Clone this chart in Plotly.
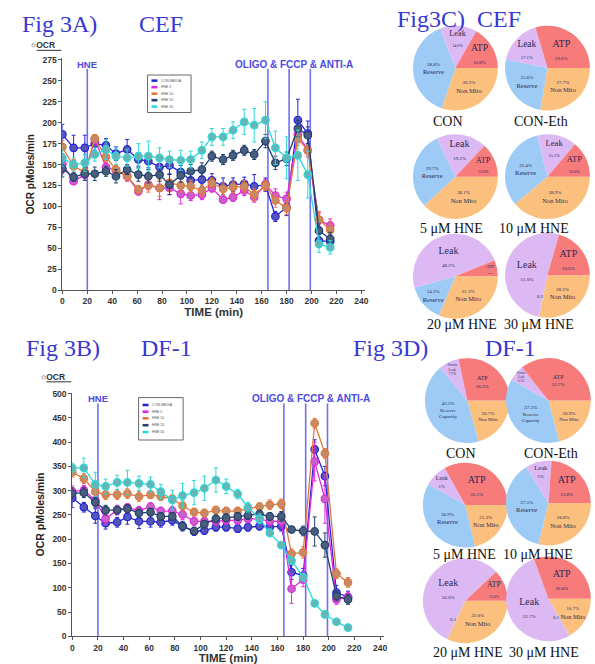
import math
import plotly.graph_objects as go

W, H = 595, 664


def px(x):
    return min(max(x / W, 0.0), 1.0)


def py(y):
    return min(max(1 - y / H, 0.0), 1.0)


# ---------------- line-chart data ----------------
times = [0, 9, 18, 26, 35, 43, 52, 61, 69, 78, 86, 95, 103, 112, 120, 129,
         137, 146, 154, 163, 171, 180, 189, 197, 206, 215]
event_times = [20, 165, 182, 199]
series_names = ["CON-MEDIA", "HNE 5", "HNE 10", "HNE 20", "HNE 30"]
series_colors = ["#2424D8", "#E028E0", "#E0783A", "#23406E", "#2ED8D8"]
marker_fills = ["#5656B8", "#C862C8", "#C68A66", "#4A5E7C", "#66B4B4"]

# Fig 3A  CEF
cef_con = [186, 170, 170, 175, 173, 163, 168, 156, 154, 147, 149, 141, 131, 132, 131, 124,
           126, 127, 124, 126, 88, 99, 203, 187, 59, 58]
cef_hne5 = [151, 130, 138, 180, 147, 143, 136, 118, 126, 122, 122, 115, 113, 114, 122, 108,
            111, 119, 111, 126, 113, 109, 186, 167, 84, 77]
cef_hne10 = [171, 148, 141, 181, 159, 144, 136, 120, 125, 122, 128, 125, 124, 119, 128, 121,
             123, 124, 114, 125, 107, 98, 181, 167, 84, 72]
cef_hne20 = [145, 135, 139, 139, 142, 136, 144, 138, 136, 138, 126, 137, 142, 144, 160, 156,
             161, 167, 162, 178, 152, 157, 193, 185, 71, 61]
cef_hne30 = [158, 150, 152, 162, 168, 160, 158, 160, 160, 158, 156, 155, 156, 167, 183, 183,
             191, 201, 197, 203, 170, 158, 161, 138, 55, 51]
cef_con_err = [12, 15, 15, 8, 8, 8, 12, 8, 8, 8, 10, 8, 8, 8, 8, 10, 8, 8, 14, 8, 6, 10, 25, 15, 8, 8]
cef_hne5_err = [12, 4, 5, 5, 6, 5, 6, 4, 6, 14, 8, 12, 6, 6, 5, 4, 5, 6, 6, 6, 8, 8, 10, 8, 8, 8]
cef_hne10_err = [8, 8, 6, 5, 6, 5, 5, 5, 8, 10, 10, 8, 7, 7, 6, 7, 7, 7, 7, 6, 8, 8, 8, 7, 10, 10]
cef_hne20_err = [10, 5, 8, 8, 6, 8, 6, 8, 8, 8, 12, 8, 8, 8, 6, 6, 6, 6, 6, 8, 8, 8, 10, 10, 8, 8]
cef_hne30_err = [10, 8, 10, 8, 12, 10, 10, 15, 18, 12, 10, 12, 10, 10, 10, 10, 10, 15, 20, 22, 20,
                 25, 30, 28, 10, 8]

# Fig 3B  DF-1
df_con = [285, 266, 248, 233, 235, 246, 237, 237, 235, 239, 227, 216, 218, 225, 225, 222,
          225, 227, 225, 227, 132, 125, 385, 330, 90, 81]
df_hne5 = [298, 301, 280, 242, 260, 265, 259, 267, 258, 258, 251, 237, 237, 237, 239, 239,
           242, 242, 237, 237, 98, 117, 360, 283, 76, 81]
df_hne10 = [338, 325, 298, 292, 292, 294, 288, 292, 288, 283, 269, 256, 254, 260, 258, 258,
            263, 267, 271, 273, 170, 173, 439, 377, 129, 111]
df_hne20 = [294, 296, 276, 260, 260, 263, 254, 256, 247, 247, 227, 217, 231, 242, 244, 247,
            249, 252, 247, 247, 220, 217, 216, 188, 83, 76]
df_hne30 = [347, 347, 313, 309, 317, 317, 315, 313, 298, 281, 290, 296, 305, 322, 309, 293,
            266, 242, 213, 188, 156, 122, 68, 45, 30, 18]
df_con_err = [20, 10, 15, 12, 10, 15, 15, 12, 10, 10, 10, 8, 8, 8, 8, 8, 8, 8, 10, 10, 15, 15, 20,
              20, 15, 12]
df_hne5_err = [12, 10, 12, 12, 10, 8, 8, 8, 8, 10, 10, 8, 8, 8, 8, 8, 8, 8, 8, 10, 30, 15, 40, 50,
               10, 10]
df_hne10_err = [10, 10, 10, 10, 10, 10, 10, 8, 8, 8, 10, 8, 8, 8, 8, 8, 8, 8, 10, 10, 10, 12, 10,
                10, 10, 10]
df_hne20_err = [12, 10, 10, 10, 8, 8, 8, 8, 8, 8, 8, 8, 8, 8, 8, 8, 8, 8, 8, 10, 5, 10, 30, 25,
                10, 10]
df_hne30_err = [10, 20, 25, 15, 15, 25, 15, 15, 15, 20, 25, 25, 25, 25, 15, 10, 10, 10, 8, 5, 5,
                5, 5, 5, 5, 5]

x_ticks = list(range(0, 241, 20))
y_ticks_a = list(range(0, 276, 25))
y_ticks_b = list(range(0, 501, 50))

# ---------------- pie data (order: Non Mito, Reserve, Leak, ATP) ----------------
slice_names = ["Non Mito", "Reserve", "Leak", "ATP"]
slice_colors = ["#FCC07E", "#9DCBF6", "#DDB9F3", "#F77B7B"]
pie_cef_con = [30.2, 38.8, 14.0, 16.8]
pie_cef_eth = [27.7, 25.6, 17.1, 29.6]
pie_cef_5 = [38.1, 29.7, 19.2, 13.0]
pie_cef_10 = [38.9, 32.4, 15.1, 13.8]
pie_cef_20 = [31.3, 14.3, 48.2, 6.2]
pie_cef_30 = [28.2, 0.2, 51.0, 20.6]
pie_df_con = [20.7, 43.3, 7.7, 28.3]
pie_df_eth = [20.9, 37.3, 6.1, 35.7]
pie_df_5 = [21.3, 36.9, 8.7, 33.1]
pie_df_10 = [28.8, 37.5, 9.9, 23.8]
pie_df_20 = [32.0, 0.1, 56.0, 12.0]
pie_df_30 = [16.7, 0.1, 52.7, 30.6]
pie_captions = ["CON", "CON-Eth", "5 μM HNE", "10 μM HNE", "20 μM HNE", "30 μM HNE"]

fig = go.Figure()

# ---------------- line charts ----------------
TICKFONT = dict(family="Liberation Sans", size=8.5, color="#333333", weight="bold")
panels = [
    ("x", "y", [cef_con, cef_hne5, cef_hne10, cef_hne20, cef_hne30],
     [cef_con_err, cef_hne5_err, cef_hne10_err, cef_hne20_err, cef_hne30_err]),
    ("x2", "y2", [df_con, df_hne5, df_hne10, df_hne20, df_hne30],
     [df_con_err, df_hne5_err, df_hne10_err, df_hne20_err, df_hne30_err]),
]
for xa, ya, data, errs in panels:
    for i, name in enumerate(series_names):
        fig.add_trace(go.Scatter(
            x=times, y=data[i], name=name, xaxis=xa, yaxis=ya, mode="lines+markers",
            line=dict(color=series_colors[i], width=1.3),
            marker=dict(size=7.5, color=marker_fills[i],
                        line=dict(color=series_colors[i], width=1.2)),
            error_y=dict(type="data", array=errs[i], color=series_colors[i], thickness=1, width=2),
            showlegend=False, hoverinfo="skip"))

axis_common = dict(showgrid=False, zeroline=False, showline=True, linecolor="#555555",
                   linewidth=1, ticks="outside", ticklen=3, tickcolor="#555555",
                   tickfont=TICKFONT)
fig.update_layout(
    xaxis=dict(domain=[px(61), px(366.8)], range=[0, 243], tickvals=x_ticks, anchor="y",
               title=dict(text="TIME (min)", standoff=2,
                          font=dict(family="Liberation Sans", size=11.5, color="#333333",
                                    weight="bold")), **axis_common),
    yaxis=dict(domain=[py(290), py(55)], range=[0, 277], tickvals=y_ticks_a, anchor="x",
               title=dict(text="OCR pMoles/min", standoff=5,
                          font=dict(family="Liberation Sans", size=10, color="#222222",
                                    weight="bold")), **axis_common),
    xaxis2=dict(domain=[px(71), px(385.8)], range=[0, 243], tickvals=x_ticks, anchor="y2",
                title=dict(text="TIME (min)", standoff=0,
                           font=dict(family="Liberation Sans", size=11.5, color="#333333",
                                     weight="bold")), **axis_common),
    yaxis2=dict(domain=[py(641), py(394)], range=[0, 502], tickvals=y_ticks_b, anchor="x2",
                title=dict(text="OCR pMoles/min", standoff=5,
                           font=dict(family="Liberation Sans", size=10.5, color="#222222",
                                     weight="bold")), **axis_common),
)

shapes = []
annotations = []
EVENT_COLOR = "#7070F0"
for xr, yr in [("x", "y"), ("x2", "y2")]:
    for t in event_times:
        shapes.append(dict(type="line", xref=xr, yref=yr + " domain", x0=t, x1=t, y0=0, y1=0.955,
                           line=dict(color=EVENT_COLOR, width=1.6), layer="below"))
    annotations.append(dict(text="HNE", xref=xr, yref=yr + " domain", x=event_times[0], y=0.975,
                            showarrow=False, xanchor="center", yanchor="middle",
                            font=dict(family="Liberation Sans", size=9.5, color="#4B4BE6",
                                      weight="bold")))
    annotations.append(dict(text="OLIGO & FCCP & ANTI-A", xref=xr, yref=yr + " domain",
                            x=186, y=0.975, showarrow=False, xanchor="center", yanchor="middle",
                            font=dict(family="Liberation Sans", size=10, color="#4B4BE6",
                                      weight="bold")))

# "OCR" header labels
for (lx, ly) in [(27, 42), (37, 378)]:
    annotations.append(dict(text="○<b>OCR</b>", xref="paper", yref="paper", x=px(lx), y=py(ly),
                            xanchor="left", yanchor="middle", showarrow=False,
                            font=dict(family="Liberation Sans", size=8.5, color="#333333")))
    shapes.append(dict(type="line", xref="paper", yref="paper", x0=px(lx + 8), x1=px(lx + 33),
                       y0=py(ly + 5), y1=py(ly + 5), line=dict(color="#333333", width=1)))

# manual legends (tiny boxed legends as in the figure)
for (bx0, by0, bx1, by1, rows) in [(147, 72, 191, 110, [77.7, 84.3, 90.9, 97.5, 104]),
                                   (138, 399, 183, 442, [406.5, 413.3, 420, 427, 434])]:
    shapes.append(dict(type="rect", xref="paper", yref="paper", x0=px(bx0), x1=px(bx1),
                       y0=py(by1), y1=py(by0), line=dict(color="#444444", width=0.8),
                       fillcolor="white"))
    for i, name in enumerate(series_names):
        ry = rows[i]
        shapes.append(dict(type="rect", xref="paper", yref="paper", x0=px(bx0 + 4),
                           x1=px(bx0 + 10), y0=py(ry + 1.3), y1=py(ry - 1.3),
                           line=dict(width=0), fillcolor=series_colors[i]))
        annotations.append(dict(text=name, xref="paper", yref="paper", x=px(bx0 + 12), y=py(ry),
                                xanchor="left", yanchor="middle", showarrow=False,
                                font=dict(family="Liberation Sans", size=3.5, color="#555555")))

# ---------------- figure titles ----------------
TITLE_FONT = dict(family="Liberation Serif", size=24, color="#3838D2")
for text, lx, ly in [("Fig 3A)", 19, 20), ("CEF", 137, 20), ("Fig3C)", 398, 15), ("CEF", 479, 15),
                     ("Fig 3B)", 23, 349), ("DF-1", 139, 349), ("Fig 3D)", 354, 349),
                     ("DF-1", 487, 349)]:
    annotations.append(dict(text=text, xref="paper", yref="paper", x=px(lx), y=py(ly),
                            xanchor="left", yanchor="middle", showarrow=False, font=TITLE_FONT,
                            borderpad=0))

# ---------------- pies ----------------
PIE_TEXT = "#2A2A55"
R = 43
pie_layout = [
    (pie_cef_con, 458, 65, "cef"), (pie_cef_eth, 551, 65, "cef"),
    (pie_cef_5, 458, 175, "cef"), (pie_cef_10, 551, 175, "cef"),
    (pie_cef_20, 458, 276, "cef"), (pie_cef_30, 551, 275, "cef"),
    (pie_df_con, 470, 402, "dfc"), (pie_df_eth, 552, 402, "dfc"),
    (pie_df_5, 468, 508, "df"), (pie_df_10, 552, 506, "df"),
    (pie_df_20, 468, 605, "df"), (pie_df_30, 552, 603, "df"),
]
caption_pos = [(451, 119), (544, 119), (454, 228), (537, 228), (465, 325), (542, 325),
               (464, 456), (555, 456), (467, 558), (541, 558), (471, 657), (548, 657)]

for k, (vals, cx, cy, style) in enumerate(pie_layout):
    texts, sizes = [], []
    total = float(sum(vals))
    cum = 0.0
    for j, v in enumerate(vals):
        name = slice_names[j]
        if style == "dfc" and name == "Reserve":
            name = "Reserve<br>Capacity"
        if style == "dfc" and name == "Leak":
            name = "Proton<br>Leak"
        pct = "<span style='font-size:5px'>%.1f%%</span>" % v
        if v < 1:
            # too thin for inside text: write its value just inside the pie, next to the slice
            ang = math.radians(-(cum + v / 2) / total * 360.0)
            r_eff = min(R, (W - (cx - R)) / 2.0) if cx + R > W else R
            tx = cx + 0.5 * r_eff * math.cos(ang) - 3
            ty = cy - 0.5 * r_eff * math.sin(ang)
            annotations.append(dict(text="%.1f" % v, xref="paper", yref="paper", x=px(tx),
                                    y=py(ty), xanchor="center", yanchor="middle",
                                    showarrow=False,
                                    font=dict(family="Liberation Serif", size=5,
                                              color=PIE_TEXT)))
            texts.append("")
            sizes.append(5)
            cum += v
            continue
        cum += v
        if j < 2:
            texts.append(pct + "<br>" + name)
        else:
            texts.append(name + "<br>" + pct)
        if style == "dfc":
            sizes.append(6 if name == "ATP" else 5)
        else:
            sizes.append(10 if j >= 2 else 6.5)
    fig.add_trace(go.Pie(
        values=vals, labels=slice_names, text=texts, textinfo="text", sort=False,
        direction="clockwise", rotation=90,
        marker=dict(colors=slice_colors, line=dict(width=0)),
        textposition="inside", insidetextorientation="horizontal",
        insidetextfont=dict(family="Liberation Serif", size=sizes, color=PIE_TEXT),
        domain=dict(x=[px(cx - R), px(cx + R)], y=[py(cy + R), py(cy - R)]),
        showlegend=False, hoverinfo="skip"))

for k, (cx, cy) in enumerate(caption_pos):
    annotations.append(dict(text=pie_captions[k % 6], xref="paper", yref="paper", x=px(cx),
                            y=py(cy), xanchor="center", yanchor="middle", showarrow=False,
                            font=dict(family="Liberation Serif", size=14, color="#111111")))

fig.update_layout(width=W, height=H, margin=dict(l=0, r=0, t=0, b=0),
                  paper_bgcolor="white", plot_bgcolor="white",
                  shapes=shapes, annotations=annotations, showlegend=False)

fig.write_html("out.html")
